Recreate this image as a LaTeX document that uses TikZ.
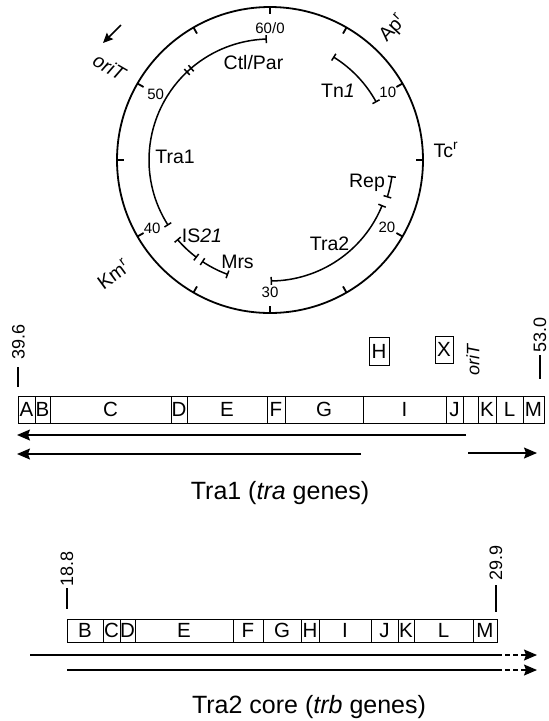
\documentclass[tikz,border=0pt]{standalone}
\usepackage{fontspec}
\setmainfont{Liberation Sans}
\usetikzlibrary{arrows.meta}
\tikzset{
  circ/.style={line width=1.8pt},
  arcl/.style={line width=1.5pt},
  lbl/.style={font=\fontsize{19.5}{20}\selectfont, inner sep=0pt},
  num/.style={font=\fontsize{15}{16}\selectfont, inner sep=0pt},
  gene/.style={draw, line width=1pt, inner sep=0pt, font=\fontsize{20.5}{20}\selectfont},
  coordlbl/.style={font=\fontsize{18}{18}\selectfont, rotate=90, inner sep=0pt},
  coordline/.style={line width=1.3pt},
  titlelbl/.style={font=\fontsize{25}{26}\selectfont, inner sep=0pt},
  arr/.style={line width=1.5pt, -{Stealth[length=13pt,width=11pt,inset=2pt]}},
  plainline/.style={line width=1.5pt},
  dashline/.style={line width=1.5pt, dash pattern=on 5pt off 3pt, -{Stealth[length=13pt,width=11pt,inset=2pt]}},
}
% arc segment with end bars: radius, start pos, end pos
\newcommand\barc[3]{%
  \draw[arcl] ({6*#2-90}:#1) arc[start angle={6*#2-90}, end angle={6*#3-90}, radius=#1];
  \draw[arcl] ({6*#2-90}:{#1-4}) -- ({6*#2-90}:{#1+4});
  \draw[arcl] ({6*#3-90}:{#1-4}) -- ({6*#3-90}:{#1+4});
}
% gene box: name, x1, x2, ycenter, height, label
\newcommand\gbox[6]{%
  \node[gene, minimum width={(#3-#2)*1pt}, minimum height={#5*1pt}] (#1) at ({(#2+#3)/2},#4) {#6};
}
\begin{document}
\begin{tikzpicture}[x=1pt,y=-1pt]
\useasboundingbox (0,0) rectangle (549,721);

% ---------- circular map ----------
\begin{scope}[shift={(270,160)}]
  \draw[circ] (0,0) circle[radius=153];
  \foreach \p in {0,5,...,55} {
    \draw[circ] ({6*\p-90}:153) -- ({6*\p-90}:146);
  }
  \node[num] (n0)  at (-90:132) {60/0};
  \node[num] (n10) at (-30:136) {10};
  \node[num] (n20) at (30:135)  {20};
  \node[num] (n30) at (90:132)  {30};
  \node[num] (n40) at (150:136) {40};
  \node[num] (n50) at (210:132) {50};

  \node[lbl, rotate=47] (apr) at (-47:180) {Ap\textsuperscript{r}};
  \node[lbl, rotate=36] (kmr) at (144:194) {Km\textsuperscript{r}};
  \node[lbl, rotate=-30] (orit) at (210:185) {\textit{oriT}};

  % inner arcs
  \barc{121}{39.6}{59.7}
  \draw[arcl] ({6*53-90-1.3}:117) -- ({6*53-90-1.3}:125);
  \draw[arcl] ({6*53-90+1.3}:117) -- ({6*53-90+1.3}:125);
  \barc{121}{5.3}{10.2}
  \barc{123}{16.3}{17.9}
  \barc{121}{18.7}{29.9}
  \barc{122}{36.2}{38.2}
  \barc{122}{33.4}{35.6}
\end{scope}

\node[lbl] (tcr) at (446,150) {Tc\textsuperscript{r}};
\coordinate (oa1) at (121,25);
\coordinate (oa2) at (103,43);
\draw[line width=1.6pt, -{Stealth[length=10pt,width=9pt,inset=1.5pt]}] (oa1) -- (oa2);

\node[lbl] (ctl)  at (253.5,62.5) {Ctl/Par};
\node[lbl] (tra1c) at (175,157) {Tra1};
\node[lbl] (tn1)  at (338,91) {Tn\textit{1}};
\node[lbl] (rep)  at (367,183) {Rep};
\node[lbl] (tra2c) at (329.5,244) {Tra2};
\node[lbl] (is21) at (202,235.5) {IS\textit{21}};
\node[lbl] (mrs)  at (237.5,262) {Mrs};

% ---------- Tra1 linear map ----------
\gbox{tA}{18}{35}{409.5}{27}{A}
\gbox{tB}{35}{50}{409.5}{27}{B}
\gbox{tC}{50}{171}{409.5}{27}{C}
\gbox{tD}{171}{187}{409.5}{27}{D}
\gbox{tE}{187}{267}{409.5}{27}{E}
\gbox{tF}{267}{285}{409.5}{27}{F}
\gbox{tG}{285}{363}{409.5}{27}{G}
\gbox{tI}{363}{446}{409.5}{27}{I}
\gbox{tJ}{446}{463}{409.5}{27}{J}
\gbox{tO}{463}{478}{409.5}{27}{}
\gbox{tK}{478}{496}{409.5}{27}{K}
\gbox{tL}{496}{523}{409.5}{27}{L}
\gbox{tM}{523}{544}{409.5}{27}{M}

\node[gene, minimum width=20pt, minimum height=28pt] (tH) at (379,351) {H};
\node[gene, minimum width=18pt, minimum height=27pt] (tX) at (444,349.5) {X};
\node[coordlbl] (orit2) at (473,359) {\textit{oriT}};

\coordinate (l39a) at (18,367); \coordinate (l39b) at (18,387);
\draw[coordline] (l39a) -- (l39b);
\node[coordlbl] (c39) at (18.5,341.5) {39.6};
\coordinate (l53a) at (540,355); \coordinate (l53b) at (540,379);
\draw[coordline] (l53a) -- (l53b);
\node[coordlbl] (c53) at (540,335) {53.0};

\coordinate (a1s) at (466,435); \coordinate (a1e) at (17,435);
\draw[arr] (a1s) -- (a1e);
\coordinate (a2s) at (361,454); \coordinate (a2e) at (17,454);
\draw[arr] (a2s) -- (a2e);
\coordinate (a3s) at (468,453); \coordinate (a3e) at (537,453);
\draw[arr] (a3s) -- (a3e);

\node[titlelbl] (title1) at (280,493) {Tra1 (\textit{tra} genes)};

% ---------- Tra2 linear map ----------
\gbox{uB}{67}{103}{630.5}{23}{B}
\gbox{uC}{103}{120}{630.5}{23}{C}
\gbox{uD}{120}{135}{630.5}{23}{D}
\gbox{uE}{135}{233}{630.5}{23}{E}
\gbox{uF}{233}{263}{630.5}{23}{F}
\gbox{uG}{263}{301}{630.5}{23}{G}
\gbox{uH}{301}{319}{630.5}{23}{H}
\gbox{uI}{319}{371}{630.5}{23}{I}
\gbox{uJ}{371}{398}{630.5}{23}{J}
\gbox{uK}{398}{414}{630.5}{23}{K}
\gbox{uL}{414}{473}{630.5}{23}{L}
\gbox{uM}{473}{497}{630.5}{23}{M}

\coordinate (l18a) at (67,588); \coordinate (l18b) at (67,609);
\draw[coordline] (l18a) -- (l18b);
\node[coordlbl] (c18) at (67,568.5) {18.8};
\coordinate (l29a) at (496,585); \coordinate (l29b) at (496,612);
\draw[coordline] (l29a) -- (l29b);
\node[coordlbl] (c29) at (496,562.5) {29.9};

\coordinate (b1s) at (30,655); \coordinate (b1m) at (497,655); \coordinate (b1e) at (537,655);
\draw[plainline] (b1s) -- (b1m);
\draw[dashline] (b1m) -- (b1e);
\coordinate (b2s) at (67,670); \coordinate (b2m) at (497,670); \coordinate (b2e) at (537,670);
\draw[plainline] (b2s) -- (b2m);
\draw[dashline] (b2m) -- (b2e);

\node[titlelbl] (title2) at (309,707) {Tra2 core (\textit{trb} genes)};
\end{tikzpicture}
\end{document}
